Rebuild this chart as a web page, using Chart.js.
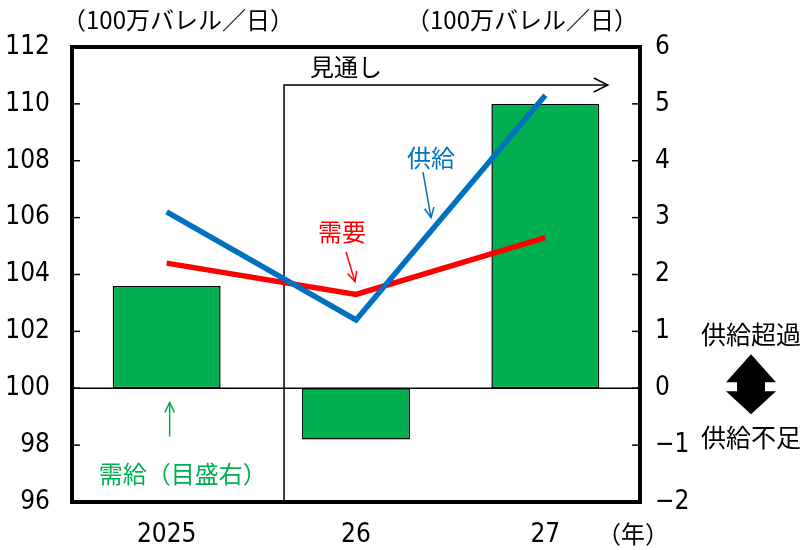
<!DOCTYPE html>
<html>
<head>
<meta charset="utf-8">
<script src="https://cdn.jsdelivr.net/npm/chart.js@4"></script>
<style>
  body { margin: 0; background: #fff; }
  #wrap { width: 804px; height: 550px; }
</style>
</head>
<body>
<div id="wrap"><canvas id="myChart" width="804" height="550"></canvas></div>
<script>
'use strict';

// データ
const years = ['2025', '26', '27'];
const supply = [106.2, 102.4, 110.3];   // 供給（左目盛）
const demand = [104.4, 103.3, 105.3];   // 需要（左目盛）
const balance = [1.8, -0.9, 5.0];       // 需給（右目盛）
const leftTicks = [96, 112, 2];
const rightTicks = [-2, 6, 1];

const NUM = "'Liberation Sans Narrow', 'DejaVu Sans Condensed', Roboto, sans-serif";
const JP = "'Noto Sans CJK JP', sans-serif";

const overlay = {
    id: 'overlay',
    beforeDatasetsDraw(chart) {
        const ctx = chart.ctx, a = chart.chartArea;
        const y1 = chart.scales.y1;
        ctx.save();
        // 0のライン
        ctx.strokeStyle = '#000';
        ctx.lineWidth = 1.5;
        ctx.beginPath();
        ctx.moveTo(a.left, y1.getPixelForValue(0));
        ctx.lineTo(a.right, y1.getPixelForValue(0));
        ctx.stroke();
        // 見通しの区切り
        const x = chart.scales.x;
        const step = x.getPixelForValue(1) - x.getPixelForValue(0);
        const xs = x.getPixelForValue(0) + step * 0.62;
        const xe = x.getPixelForValue(2) + step * 0.33;
        const ya = a.top + 38;
        ctx.lineWidth = 1.5;
        ctx.beginPath();
        ctx.moveTo(xs, a.bottom);
        ctx.lineTo(xs, ya);
        ctx.lineTo(xe, ya);
        ctx.stroke();
        ctx.beginPath();
        ctx.moveTo(xe - 14, ya - 7);
        ctx.lineTo(xe, ya);
        ctx.lineTo(xe - 14, ya + 7);
        ctx.stroke();
        ctx.fillStyle = '#000';
        ctx.font = '24px ' + JP;
        ctx.textAlign = 'center';
        ctx.textBaseline = 'middle';
        ctx.fillText('見通し', (xs + xe) / 2 - 100, ya - 18);
        ctx.restore();
    },
    afterDatasetsDraw(chart) {
        const ctx = chart.ctx, a = chart.chartArea;
        const x = chart.scales.x, y = chart.scales.y, y1 = chart.scales.y1;
        ctx.save();

        // 枠
        ctx.strokeStyle = '#000';
        ctx.lineWidth = 4;
        ctx.strokeRect(a.left, a.top, a.right - a.left, a.bottom - a.top);

        // 目盛線（内向き）
        ctx.lineWidth = 1.5;
        for (let v = leftTicks[0]; v <= leftTicks[1]; v += leftTicks[2]) {
            const py = y.getPixelForValue(v);
            ctx.beginPath();
            ctx.moveTo(a.left, py);
            ctx.lineTo(a.left + 8, py);
            ctx.stroke();
        }
        for (let v = rightTicks[0]; v <= rightTicks[1]; v += rightTicks[2]) {
            const py = y1.getPixelForValue(v);
            ctx.beginPath();
            ctx.moveTo(a.right, py);
            ctx.lineTo(a.right - 8, py);
            ctx.stroke();
        }

        ctx.textAlign = 'center';
        ctx.textBaseline = 'middle';

        // 単位
        ctx.fillStyle = '#000';
        ctx.font = '24px ' + JP;
        ctx.fillText('（100万バレル／日）', a.left + 106, 20);
        ctx.fillText('（100万バレル／日）', a.right - 118, 20);
        ctx.fillText('（年）', a.right - 7, 534);

        // 供給ラベル
        const c1 = x.getPixelForValue(1);
        ctx.fillStyle = '#0070C0';
        ctx.strokeStyle = '#0070C0';
        ctx.fillText('供給', c1 + 75, y.getPixelForValue(108.1));
        drawArrow(ctx, c1 + 67, y.getPixelForValue(107.6),
            c1 + 75, y.getPixelForValue(106.0), 1.5);

        // 需要ラベル
        ctx.fillStyle = '#FF0000';
        ctx.strokeStyle = '#FF0000';
        ctx.fillText('需要', c1 - 14, y.getPixelForValue(105.5));
        drawArrow(ctx, c1 - 10, y.getPixelForValue(104.8),
            c1 - 1, y.getPixelForValue(103.75), 1.5);

        // 需給ラベル
        const c0 = x.getPixelForValue(0);
        ctx.fillStyle = '#00B050';
        ctx.strokeStyle = '#00B050';
        drawArrow(ctx, c0 + 3, y.getPixelForValue(98.3),
            c0 + 3, y.getPixelForValue(99.5), 1.5);
        ctx.fillText('需給（目盛右）', c0 + 16, y.getPixelForValue(97.0));

        // 右側の説明
        ctx.fillStyle = '#000';
        ctx.font = '25px ' + JP;
        const cx = 751, z = y1.getPixelForValue(0);
        ctx.fillText('供給超過', cx, z - 54);
        ctx.fillText('供給不足', cx, z + 49);
        ctx.beginPath();
        ctx.moveTo(cx, z - 34);
        ctx.lineTo(cx + 25, z - 6);
        ctx.lineTo(cx + 14, z - 6);
        ctx.lineTo(cx + 14, z + 3);
        ctx.lineTo(cx + 25, z + 3);
        ctx.lineTo(cx, z + 26);
        ctx.lineTo(cx - 25, z + 3);
        ctx.lineTo(cx - 14, z + 3);
        ctx.lineTo(cx - 14, z - 6);
        ctx.lineTo(cx - 25, z - 6);
        ctx.closePath();
        ctx.fill();

        ctx.restore();
    }
};

function drawArrow(ctx, x0, y0, x1, y1, w) {
    const ang = Math.atan2(y1 - y0, x1 - x0);
    ctx.lineWidth = w;
    ctx.beginPath();
    ctx.moveTo(x0, y0);
    ctx.lineTo(x1, y1);
    ctx.stroke();
    ctx.beginPath();
    ctx.moveTo(x1 - 11 * Math.cos(ang - 0.45), y1 - 11 * Math.sin(ang - 0.45));
    ctx.lineTo(x1, y1);
    ctx.lineTo(x1 - 11 * Math.cos(ang + 0.45), y1 - 11 * Math.sin(ang + 0.45));
    ctx.stroke();
}

const config = {
    type: 'bar',
    data: {
        labels: years,
        datasets: [
            {
                type: 'line',
                label: '供給',
                data: supply,
                yAxisID: 'y',
                borderColor: '#0070C0',
                borderWidth: 5.5,
                pointRadius: 0,
                borderCapStyle: 'butt',
                order: 0
            },
            {
                type: 'line',
                label: '需要',
                data: demand,
                yAxisID: 'y',
                borderColor: '#FF0000',
                borderWidth: 5.5,
                pointRadius: 0,
                borderCapStyle: 'butt',
                order: 1
            },
            {
                label: '需給',
                data: balance,
                yAxisID: 'y1',
                backgroundColor: '#00B050',
                borderColor: '#000',
                borderWidth: 1.5,
                borderSkipped: false,
                barPercentage: 1,
                categoryPercentage: 0.57,
                order: 2
            }
        ]
    },
    options: {
        responsive: false,
        animation: false,
        layout: { padding: { top: 47, left: 0, right: 0, bottom: 0 } },
        plugins: {
            legend: { display: false },
            tooltip: { enabled: false }
        },
        scales: {
            x: {
                grid: { display: false, drawTicks: false },
                border: { display: false },
                ticks: { color: '#000', font: { family: NUM, size: 26 }, padding: 18 },
                afterFit: s => { s.height = 48; }
            },
            y: {
                position: 'left',
                min: leftTicks[0],
                max: leftTicks[1],
                grid: { display: false, drawTicks: false },
                border: { display: false },
                ticks: { stepSize: leftTicks[2], color: '#000', font: { family: NUM, size: 26 }, padding: 22 },
                afterFit: s => { s.width = 72; }
            },
            y1: {
                position: 'right',
                min: rightTicks[0],
                max: rightTicks[1],
                grid: { display: false, drawTicks: false },
                border: { display: false },
                ticks: {
                    stepSize: rightTicks[2],
                    color: '#000',
                    font: { family: NUM, size: 26 },
                    padding: 15,
                    callback: v => String(v).replace('-', '−')
                },
                afterFit: s => { s.width = 164; }
            }
        }
    },
    plugins: [overlay]
};

const myChart = new Chart(document.getElementById('myChart'), config);
</script>
</body>
</html>
